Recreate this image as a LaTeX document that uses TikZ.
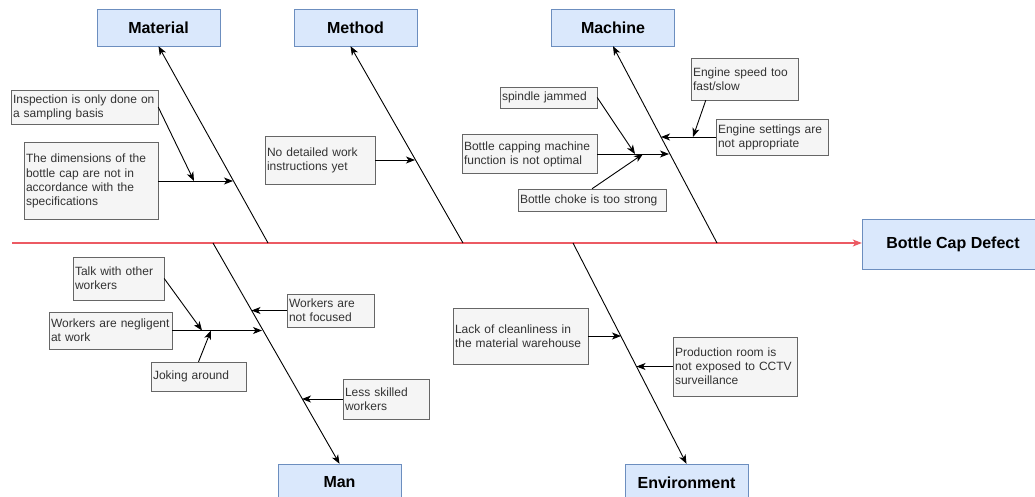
\documentclass[tikz,border=0pt]{standalone}
\usepackage{fontspec}
\setmainfont{Liberation Sans}
\usetikzlibrary{arrows.meta}

\definecolor{catfill}{HTML}{DAE8FC}
\definecolor{catdraw}{HTML}{6C8EBF}
\definecolor{causefill}{HTML}{F5F5F5}
\definecolor{causedraw}{HTML}{666666}
\definecolor{causetext}{HTML}{333333}
\definecolor{spinered}{HTML}{EC5A63}

\begin{document}
\begin{tikzpicture}[
    x=1pt, y=-1pt,
    catbox/.style={rectangle, draw=catdraw, fill=catfill, minimum width=123pt, minimum height=37pt, font=\fontsize{16}{19}\selectfont\bfseries},
    causebox/.style={rectangle, draw=causedraw, fill=causefill, text=causetext, inner xsep=2pt, inner ysep=1pt, align=left, font=\fontsize{12}{14.2}\selectfont},
    arrow/.style={-{Stealth[length=9pt, width=7pt, inset=2.5pt]}, line width=0.9pt, draw=black},
    spine/.style={-{Stealth[length=9pt, width=7pt, inset=2.5pt]}, line width=1.1pt, draw=spinered}
]
\useasboundingbox[fill=white] (0,0) rectangle (1035,497);
\clip (0,0) rectangle (1035,497);

% effect
\node[catbox, minimum width=182pt, minimum height=50pt] (effect) at (953,244) {Bottle Cap Defect};
\coordinate (spine-start) at (12,243);
\draw[spine] (spine-start) -- (effect.west |- spine-start);

% categories
\node[catbox] (material) at (158.5,27.5) {Material};
\node[catbox] (method) at (355.5,27.5) {Method};
\node[catbox] (machine) at (613,27.5) {Machine};
\node[catbox] (man) at (339.5,482.5) {Man};
\node[catbox] (environment) at (686.5,482.5) {Environment};

% bones
\coordinate (mat-root) at (268,243);
\coordinate (meth-root) at (463,243);
\coordinate (mach-root) at (717,243);
\coordinate (man-root) at (213,243);
\coordinate (env-root) at (573,243);
\draw[arrow] (mat-root) -- (material.south);
\draw[arrow] (meth-root) -- ([xshift=-5pt]method.south);
\draw[arrow] (mach-root) -- (machine.south);
\draw[arrow] (man-root) -- (man.north);
\draw[arrow] (env-root) -- (environment.north);

% Material
\node[causebox, text width=143pt, minimum height=34pt] (inspection) at (84.5,107) {Inspection is only done on\\a sampling basis};
\node[causebox, text width=130pt, minimum height=77pt] (dimensions) at (91,181) {The dimensions of the\\bottle cap are not in\\accordance with the\\specifications};
\coordinate (dimensions-hit) at (233,181);
\coordinate (dimensions-join) at (194,181);
\draw[arrow] (dimensions.east) -- (dimensions-hit);
\draw[arrow] (inspection.east) -- (dimensions-join);

% Method
\node[causebox, text width=106pt, minimum height=48pt] (instructions) at (320,160) {No detailed work\\instructions yet};
\coordinate (instructions-hit) at (415,160);
\draw[arrow] (instructions.east) -- (instructions-hit);

% Machine
\node[causebox, text width=93pt, minimum height=21pt] (spindle) at (548.5,97.5) {spindle jammed};
\node[causebox, text width=131pt, minimum height=39pt] (capping) at (529.5,154) {Bottle capping machine\\function is not optimal};
\node[causebox, text width=144pt, minimum height=22pt] (choke) at (592,200) {Bottle choke is too strong};
\node[causebox, text width=103pt, minimum height=42pt] (speed) at (744.5,79) {Engine speed too\\fast/slow};
\node[causebox, text width=108pt, minimum height=36pt] (settings) at (772,137) {Engine settings are\\not appropriate};
\coordinate (capping-hit) at (669,154);
\coordinate (spindle-join) at (635,154);
\coordinate (choke-join) at (643,154);
\coordinate (settings-hit) at (661,137);
\coordinate (speed-join) at (693,137);
\draw[arrow] (capping.east) -- (capping-hit);
\draw[arrow] (spindle.east) -- (spindle-join);
\draw[arrow] (choke.north) -- (choke-join);
\draw[arrow] (settings.west) -- (settings-hit);
\draw[arrow] ([xshift=15pt]speed.south west) -- (speed-join);

% Man
\node[causebox, text width=87pt, minimum height=43pt] (talk) at (118.5,278.5) {Talk with other\\workers};
\node[causebox, text width=119pt, minimum height=37pt] (negligent) at (110.5,330.5) {Workers are negligent\\at work};
\node[causebox, text width=91pt, minimum height=29pt] (joking) at (198.5,376.5) {Joking around};
\node[causebox, text width=83pt, minimum height=33pt] (focused) at (330.5,310.5) {Workers are\\not focused};
\node[causebox, text width=82pt, minimum height=40pt] (skilled) at (386,399) {Less skilled\\workers};
\coordinate (negligent-hit) at (262,330.5);
\coordinate (talk-join) at (202,330.5);
\coordinate (joking-join) at (211,330.5);
\coordinate (focused-hit) at (251.5,310.5);
\coordinate (skilled-hit) at (302,399);
\draw[arrow] (negligent.east) -- (negligent-hit);
\draw[arrow] (talk.east) -- (talk-join);
\draw[arrow] (joking.north) -- (joking-join);
\draw[arrow] (focused.west) -- (focused-hit);
\draw[arrow] (skilled.west) -- (skilled-hit);

% Environment
\node[causebox, text width=131pt, minimum height=56pt] (cleanliness) at (520.5,336) {Lack of cleanliness in\\the material warehouse};
\node[causebox, text width=120pt, minimum height=59pt] (cctv) at (735,366.5) {Production room is\\not exposed to CCTV\\surveillance};
\coordinate (cleanliness-hit) at (621,336);
\coordinate (cctv-hit) at (636.5,366.5);
\draw[arrow] (cleanliness.east) -- (cleanliness-hit);
\draw[arrow] (cctv.west) -- (cctv-hit);
\end{tikzpicture}
\end{document}
